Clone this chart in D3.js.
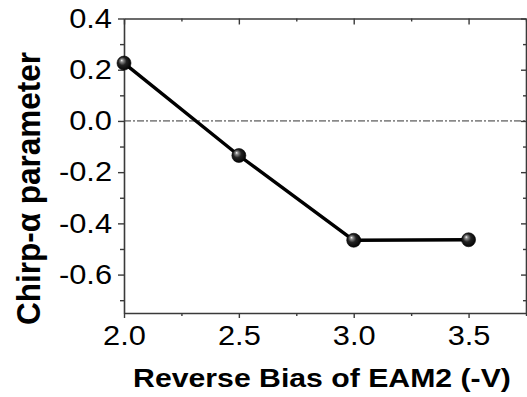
<!DOCTYPE html>
<html>
<head>
<meta charset="utf-8">
<script src="https://cdn.jsdelivr.net/npm/d3@7"></script>
<style>
  html, body { margin: 0; padding: 0; background: #fff; }
  svg { display: block; }
  text { font-family: "Liberation Sans", Arial, sans-serif; }
</style>
</head>
<body>
<svg id="chart" width="527" height="397"></svg>
<script>
// ---- data ----
const biasVoltage = [2.0, 2.5, 3.0, 3.5];
const chirpAlpha = [0.226, -0.135, -0.466, -0.464];
const xTickValues = [2.0, 2.5, 3.0, 3.5];
const xTickLabels = ["2.0", "2.5", "3.0", "3.5"];
const xMinorTicks = [2.25, 2.75, 3.25, 3.75];
const yTickValues = [-0.6, -0.4, -0.2, 0.0, 0.2, 0.4];
const yTickLabels = ["-0.6", "-0.4", "-0.2", "0.0", "0.2", "0.4"];
const yMinorTicks = [-0.7, -0.5, -0.3, -0.1, 0.1, 0.3];
const xDomain = [2.0, 3.75];
const yDomain = [-0.75, 0.4];
const xTitle = "Reverse Bias of EAM2 (-V)";
const yTitle = "Chirp-\u03B1 parameter";

// ---- layout ----
const L = 124, R = 526, T = 18.5, B = 313;
const STRETCH = 1.14; // horizontal stretch of the reference's lettering
const svg = d3.select("#chart");
const x = d3.scaleLinear().domain(xDomain).range([L, R]);
const y = d3.scaleLinear().domain(yDomain).range([B, T]);

const defs = svg.append("defs");
const grad = defs.append("radialGradient").attr("id", "sphere")
  .attr("cx", "45%").attr("cy", "45%").attr("r", "60%").attr("fx", "33%").attr("fy", "30%");
grad.append("stop").attr("offset", "0%").attr("stop-color", "#ffffff");
grad.append("stop").attr("offset", "16%").attr("stop-color", "#8f8f8f");
grad.append("stop").attr("offset", "48%").attr("stop-color", "#222");
grad.append("stop").attr("offset", "100%").attr("stop-color", "#000");

const axisColor = "#3a3a3a";
function styleAxis(g) {
  g.select(".domain").attr("stroke", axisColor).attr("stroke-width", 1.6);
  g.selectAll(".tick line").attr("stroke", axisColor).attr("stroke-width", 1.4);
}
function stretchText(sel) {
  sel.each(function () {
    const len = this.getComputedTextLength();
    d3.select(this).attr("textLength", len * STRETCH).attr("lengthAdjust", "spacingAndGlyphs");
  });
}

// zero reference line
svg.append("line")
  .attr("x1", x(xDomain[0])).attr("x2", x(xDomain[1]))
  .attr("y1", y(0)).attr("y2", y(0))
  .attr("stroke", "#333").attr("stroke-width", 1)
  .attr("stroke-dasharray", "7,2,2,2");

// bottom axis
const gx = svg.append("g").attr("transform", `translate(0,${B})`)
  .call(d3.axisBottom(x).tickValues(xTickValues).tickSize(5).tickSizeOuter(0).tickPadding(8)
    .tickFormat((d, i) => xTickLabels[i]));
styleAxis(gx);
gx.selectAll(".tick text").attr("font-size", 27).attr("fill", "#000")
  .attr("font-family", "Liberation Sans, Arial, sans-serif").call(stretchText);
svg.append("g").attr("transform", `translate(0,${B})`)
  .call(d3.axisBottom(x).tickValues(xMinorTicks).tickSize(3).tickFormat(""))
  .call(styleAxis).select(".domain").remove();

// top axis (mirror, inward)
const gt = svg.append("g").attr("transform", `translate(0,${T})`)
  .call(d3.axisBottom(x).tickValues(xTickValues).tickSize(6).tickSizeOuter(0).tickFormat(""));
styleAxis(gt);
svg.append("g").attr("transform", `translate(0,${T})`)
  .call(d3.axisBottom(x).tickValues(xMinorTicks).tickSize(3).tickFormat(""))
  .call(styleAxis).select(".domain").remove();

// left axis
const gy = svg.append("g").attr("transform", `translate(${L},0)`)
  .call(d3.axisLeft(y).tickValues(yTickValues).tickSize(6).tickSizeOuter(0).tickPadding(6)
    .tickFormat((d, i) => yTickLabels[i]));
styleAxis(gy);
gy.selectAll(".tick text").attr("font-size", 27).attr("fill", "#000")
  .attr("font-family", "Liberation Sans, Arial, sans-serif").call(stretchText);
svg.append("g").attr("transform", `translate(${L},0)`)
  .call(d3.axisLeft(y).tickValues(yMinorTicks).tickSize(4).tickFormat(""))
  .call(styleAxis).select(".domain").remove();

// right axis (mirror, inward)
const gr = svg.append("g").attr("transform", `translate(${R},0)`)
  .call(d3.axisLeft(y).tickValues(yTickValues).tickSize(5).tickSizeOuter(0).tickFormat(""));
styleAxis(gr);
svg.append("g").attr("transform", `translate(${R},0)`)
  .call(d3.axisLeft(y).tickValues(yMinorTicks).tickSize(3).tickFormat(""))
  .call(styleAxis).select(".domain").remove();

// data line
const pts = biasVoltage.map((v, i) => [v, chirpAlpha[i]]);
svg.append("path").datum(pts)
  .attr("fill", "none").attr("stroke", "#000").attr("stroke-width", 3.4)
  .attr("stroke-linejoin", "round")
  .attr("d", d3.line().x(d => x(d[0])).y(d => y(d[1])));

// markers
svg.selectAll("circle.pt").data(pts).enter().append("circle")
  .attr("class", "pt")
  .attr("cx", d => x(d[0])).attr("cy", d => y(d[1])).attr("r", 7)
  .attr("fill", "url(#sphere)").attr("stroke", "#000").attr("stroke-width", 0.6);

// titles
svg.append("text").attr("x", 322).attr("y", 387).attr("text-anchor", "middle")
  .attr("font-size", 26.5).attr("font-weight", "bold").attr("fill", "#000")
  .text(xTitle).call(stretchText);
svg.append("text").attr("transform", "translate(40,188.5) scale(1.08,1) rotate(-90)")
  .attr("text-anchor", "middle")
  .attr("font-size", 31.5).attr("font-weight", "bold").attr("fill", "#000")
  .text(yTitle);
</script>
</body>
</html>
